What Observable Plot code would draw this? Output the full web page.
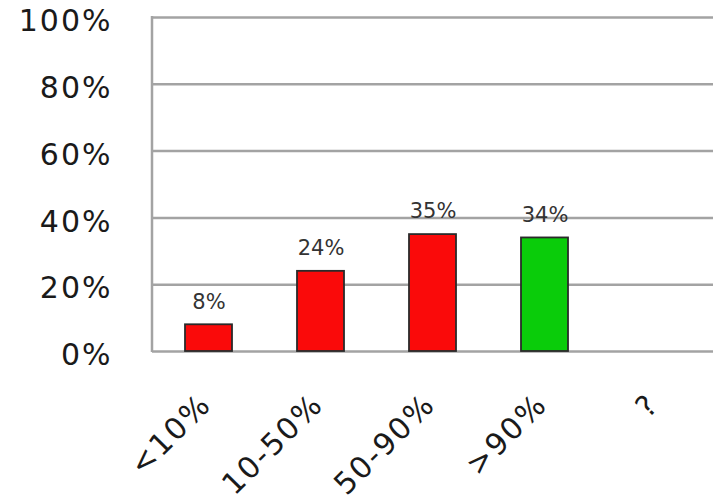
<!DOCTYPE html>
<html>
<head>
<meta charset="utf-8">
<script src="https://cdn.jsdelivr.net/npm/d3@7"></script>
<script src="https://cdn.jsdelivr.net/npm/@observablehq/plot@0.6"></script>
<style>
  html, body { margin: 0; padding: 0; background: #fff; }
  #chart svg { display: block; }
</style>
</head>
<body>
<div id="chart"></div>
<script>
// Share of items in each completion bracket
const categories = ["<10%", "10-50%", "50-90%", ">90%", "?"];
const shares = [8, 24, 35, 34, null];
const barColors = ["#fa0a0a", "#fa0a0a", "#fa0a0a", "#0acc0a", "#fa0a0a"];
const yTicks = [0, 20, 40, 60, 80, 100];

const rows = categories.map((c, i) => ({category: c, share: shares[i], color: barColors[i]}));
const withValue = rows.filter(d => d.share != null);

const marginLeft = 152;
const font = "DejaVu Sans, Verdana, sans-serif";

const plot = Plot.plot({
  width: 713,
  height: 504,
  marginTop: 17,
  marginBottom: 153,
  marginLeft,
  marginRight: 0,
  style: {fontFamily: font, background: "#fff", color: "#222"},
  x: {domain: categories, paddingInner: 0.58, paddingOuter: 0.29, label: null},
  y: {domain: [0, 100], label: null},
  marks: [
    Plot.ruleY(yTicks, {stroke: "#a3a3a3", strokeWidth: 2.5}),
    Plot.barY(withValue, {
      x: "category",
      y: "share",
      fill: "color",
      stroke: "#2a2a2a",
      strokeWidth: 1.8
    }),
    Plot.text(withValue, {
      x: "category",
      y: "share",
      text: d => d.share + "%",
      dy: -23,
      fontSize: 21,
      fill: "#333",
      style: "letter-spacing:2px"
    }),
    Plot.axisY({
      ticks: yTicks,
      tickFormat: d => d + "%",
      tickSize: 0,
      tickPadding: 40,
      fontSize: 30,
      dy: 4,
      fill: "#1a1a1a",
      label: null
    }),
    Plot.axisX({
      tickRotate: -45,
      tickSize: 0,
      tickPadding: 48,
      fontSize: 30,
      dx: -3,
      fill: "#1a1a1a",
      label: null
    })
  ]
});

// Vertical axis line along the left edge of the plotting area
const y = plot.scale("y");
d3.select(plot).append("line")
  .attr("x1", marginLeft).attr("x2", marginLeft)
  .attr("y1", y.apply(0) + 1).attr("y2", y.apply(100) - 1)
  .attr("stroke", "#a3a3a3").attr("stroke-width", 2.5);

// Wider letter spacing for the tick labels
d3.select(plot).selectAll("[aria-label^='y-axis tick label'] text, [aria-label^='x-axis tick label'] text")
  .style("letter-spacing", "2px");

document.getElementById("chart").appendChild(plot);
</script>
</body>
</html>
